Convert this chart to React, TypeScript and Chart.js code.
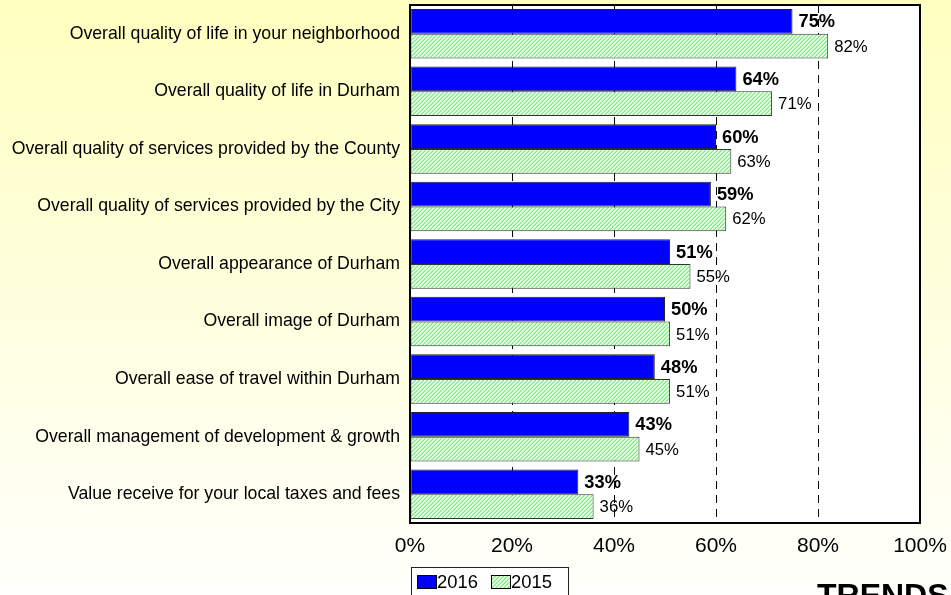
import { useEffect, useRef } from 'react';
import { Chart, registerables } from 'chart.js';

Chart.register(...registerables);

const categories = [
  'Overall quality of life in your neighborhood',
  'Overall quality of life in Durham',
  'Overall quality of services provided by the County',
  'Overall quality of services provided by the City',
  'Overall appearance of Durham',
  'Overall image of Durham',
  'Overall ease of travel within Durham',
  'Overall management of development & growth',
  'Value receive for your local taxes and fees',
];
const values2016 = [75, 64, 60, 59, 51, 50, 48, 43, 33];
const values2015 = [82, 71, 63, 62, 55, 51, 51, 45, 36];
const seriesLabels = ['2016', '2015'];
const xTickValues = [0, 20, 40, 60, 80, 100];
const footerTitle = 'TRENDS';

const FONT = '"Liberation Sans", Arial, sans-serif';

function makeHatch(): CanvasPattern | string {
  const c = document.createElement('canvas');
  c.width = 4;
  c.height = 4;
  const g = c.getContext('2d');
  if (!g) return '#b8f0b8';
  for (let x = 0; x < 4; x++) {
    for (let y = 0; y < 4; y++) {
      const k = (x + y) % 4;
      g.fillStyle = k === 3 ? '#86E286' : k === 2 ? '#B2F2B2' : '#E6FFE6';
      g.fillRect(x, y, 1, 1);
    }
  }
  return g.createPattern(c, 'repeat') || '#b8f0b8';
}

function zeroPadding(scale: any) {
  scale.paddingTop = 0;
  scale.paddingBottom = 0;
  scale.paddingLeft = 0;
  scale.paddingRight = 0;
}

export default function App() {
  const ref = useRef<HTMLCanvasElement | null>(null);

  useEffect(() => {
    document.body.style.margin = '0';
    const canvas = ref.current;
    if (!canvas) return;
    const hatch = makeHatch();

    const decor = {
      id: 'decor',
      beforeDraw(chart: any) {
        const { ctx, chartArea: a } = chart;
        ctx.save();
        ctx.fillStyle = '#ffffff';
        ctx.fillRect(a.left, a.top, a.right - a.left, a.bottom - a.top);
        ctx.restore();
      },
      afterDatasetsDraw(chart: any) {
        const { ctx } = chart;
        ctx.save();
        ctx.fillStyle = '#000';
        ctx.textAlign = 'left';
        ctx.textBaseline = 'middle';
        chart.data.datasets.forEach((ds: any, di: number) => {
          const meta = chart.getDatasetMeta(di);
          ctx.font = di === 0 ? `bold 18.3px ${FONT}` : `16.7px ${FONT}`;
          meta.data.forEach((bar: any, i: number) => {
            ctx.fillText(`${ds.data[i]}%`, bar.x + 6, bar.y + 1);
          });
        });
        ctx.restore();
      },
      afterDraw(chart: any) {
        const { ctx, chartArea: a } = chart;
        ctx.save();
        // plot border
        ctx.strokeStyle = '#000';
        ctx.lineWidth = 2;
        ctx.strokeRect(a.left, a.top, a.right - a.left, a.bottom - a.top);

        // legend
        const lx = 411;
        const ly = 567;
        ctx.fillStyle = '#ffffff';
        ctx.fillRect(lx, ly, 157, 40);
        ctx.lineWidth = 1;
        ctx.strokeStyle = '#222';
        ctx.strokeRect(lx + 0.5, ly + 0.5, 157, 40);

        ctx.font = `18.4px ${FONT}`;
        ctx.textBaseline = 'middle';
        ctx.textAlign = 'left';

        ctx.fillStyle = '#0000FF';
        ctx.fillRect(417, 575, 19, 13);
        ctx.strokeStyle = '#000';
        ctx.strokeRect(417.5, 575.5, 19, 13);
        ctx.fillStyle = '#000';
        ctx.fillText(seriesLabels[0], 437, 582.5);

        ctx.fillStyle = hatch as any;
        ctx.fillRect(491, 575, 19, 13);
        ctx.strokeStyle = '#000';
        ctx.strokeRect(491.5, 575.5, 19, 13);
        ctx.fillStyle = '#000';
        ctx.fillText(seriesLabels[1], 511, 582.5);

        // footer title
        ctx.font = `bold 32px ${FONT}`;
        ctx.textBaseline = 'alphabetic';
        ctx.fillText(footerTitle, 817, 606);
        ctx.restore();
      },
    };

    const chart = new Chart(canvas, {
      type: 'bar',
      data: {
        labels: categories,
        datasets: [
          {
            label: seriesLabels[0],
            data: values2016,
            backgroundColor: '#0000FF',
            borderColor: '#222',
            borderWidth: 1,
            borderSkipped: false,
            categoryPercentage: 0.86,
            barPercentage: 1,
          },
          {
            label: seriesLabels[1],
            data: values2015,
            backgroundColor: hatch as any,
            borderColor: '#333',
            borderWidth: 1,
            borderSkipped: false,
            categoryPercentage: 0.86,
            barPercentage: 1,
          },
        ],
      },
      options: {
        indexAxis: 'y',
        animation: false,
        responsive: false,
        maintainAspectRatio: false,
        layout: { padding: { top: 5, right: 31, left: 0, bottom: 0 } },
        plugins: {
          legend: { display: false },
          tooltip: { enabled: false },
        },
        scales: {
          x: {
            min: 0,
            max: 100,
            afterFit(scale: any) {
              scale.height = 72;
              zeroPadding(scale);
            },
            afterBuildTicks(scale: any) {
              scale.ticks = xTickValues.map((v) => ({ value: v }));
            },
            grid: {
              color: (ctx: any) =>
                ctx.tick && (ctx.tick.value === 0 || ctx.tick.value === 100) ? 'rgba(0,0,0,0)' : '#000',
              lineWidth: 1,
              drawTicks: false,
            },
            border: { display: false, dash: [8, 6] },
            ticks: {
              padding: 11,
              color: '#000',
              font: { family: FONT, size: 21 },
              callback: (v: any) => `${v}%`,
            },
          },
          y: {
            afterFit(scale: any) {
              scale.width = 410;
              zeroPadding(scale);
            },
            grid: { display: false, drawTicks: false },
            border: { display: false },
            ticks: {
              padding: 10,
              color: '#000',
              font: { family: FONT, size: 17.7 },
            },
          },
        },
      },
      plugins: [decor],
    });

    return () => chart.destroy();
  }, []);

  return (
    <div
      style={{
        position: 'fixed',
        left: 0,
        top: 0,
        width: 951,
        height: 595,
        overflow: 'hidden',
        background: 'linear-gradient(to bottom, #FFFFC0 0%, #FFFFFC 100%)',
      }}
    >
      <canvas ref={ref} width={951} height={595} style={{ display: 'block', width: 951, height: 595 }} />
    </div>
  );
}
